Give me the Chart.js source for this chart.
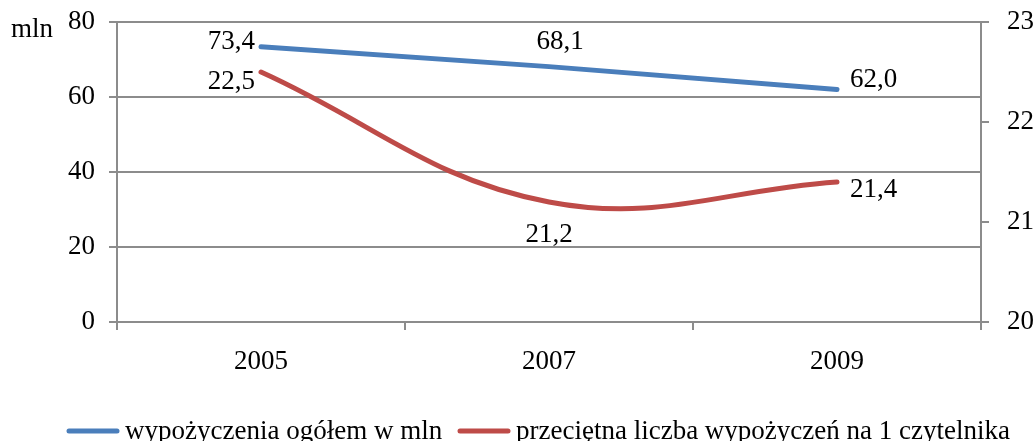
<!DOCTYPE html>
<html>
<head>
<meta charset="utf-8">
<script src="https://cdn.jsdelivr.net/npm/chart.js@4/dist/chart.umd.min.js"></script>
<style>
  html, body { margin: 0; padding: 0; background: #fff; }
  #wrap { width: 1034px; height: 441px; }
</style>
</head>
<body>
<div id="wrap"><canvas id="chart" width="1034" height="441"></canvas></div>
<script>
// data
const years = ["2005", "2007", "2009"];
const totalLoans = [73.4, 68.1, 62.0];          // mln, left axis
const loansPerReader = [22.5, 21.2, 21.4];      // right axis
const seriesNames = ["wypożyczenia ogółem w mln", "przeciętna liczba wypożyczeń na 1 czytelnika"];
const leftTicks = [0, 20, 40, 60, 80];
const rightTicks = [20, 21, 22, 23];

const FONT = "'Liberation Serif', 'Times New Roman', serif";
const FS = 27;
const GRID = '#8c8c8c';
const BLUE = '#4a7ebb';
const RED = '#be4b48';

const fmt = v => v.toFixed(1).replace('.', ',');

// label placement per point: [dx, dy, align]
const labelPos = [
  [[-6, -5, 'right'], [11, -25, 'center'], [13, -10, 'left']],
  [[-6, 10, 'right'], [0, 33, 'center'], [13, 8, 'left']]
];

const extras = {
  id: 'extras',
  afterDatasetsDraw(chart) {
    const ctx = chart.ctx;
    ctx.save();
    ctx.font = FS + 'px ' + FONT;
    ctx.fillStyle = '#000';
    ctx.textBaseline = 'middle';
    chart.data.datasets.forEach((ds, i) => {
      chart.getDatasetMeta(i).data.forEach((pt, j) => {
        const [dx, dy, al] = labelPos[i][j];
        ctx.textAlign = al;
        ctx.fillText(fmt(ds.data[j]), pt.x + dx, pt.y + dy);
      });
    });
    // axis unit
    ctx.textAlign = 'left';
    ctx.fillText('mln', 11, 30);
    // legend
    const items = [[67, BLUE], [458, RED]];
    items.forEach(([x, c], i) => {
      ctx.strokeStyle = c;
      ctx.lineWidth = 5;
      ctx.lineCap = 'round';
      ctx.beginPath();
      ctx.moveTo(x + 2, 431);
      ctx.lineTo(x + 50, 431);
      ctx.stroke();
      ctx.fillText(seriesNames[i], x + 58, 432);
    });
    ctx.restore();
  }
};

const noPadY = s => { s.paddingTop = 0; s.paddingBottom = 0; };

new Chart(document.getElementById('chart'), {
  type: 'line',
  data: {
    labels: years,
    datasets: [
      { label: seriesNames[0], data: totalLoans, yAxisID: 'y', borderColor: BLUE,
        borderWidth: 5, pointRadius: 0, tension: 0, borderCapStyle: 'round' },
      { label: seriesNames[1], data: loansPerReader, yAxisID: 'y1', borderColor: RED,
        borderWidth: 5, pointRadius: 0, tension: 0.4, borderCapStyle: 'round' }
    ]
  },
  options: {
    responsive: false,
    animation: false,
    layout: { padding: { top: 22, left: 0, right: 0, bottom: 0 } },
    plugins: { legend: { display: false }, tooltip: { enabled: false } },
    scales: {
      x: {
        offset: true,
        grid: { offset: true, drawOnChartArea: false, color: GRID, tickLength: 8, lineWidth: 2 },
        border: { color: GRID, width: 2 },
        ticks: { color: '#000', font: { family: FONT, size: FS }, padding: 16 },
        afterFit(s) { s.height = 119; s.paddingLeft = 0; s.paddingRight = 0; }
      },
      y: {
        position: 'left',
        min: 0, max: 80,
        afterBuildTicks(s) { s.ticks = leftTicks.map(v => ({ value: v })); },
        grid: { color: GRID, tickLength: 8, lineWidth: 2 },
        border: { color: GRID, width: 2 },
        ticks: { color: '#000', font: { family: FONT, size: FS }, padding: 14 },
        afterFit(s) { s.width = 117; noPadY(s); }
      },
      y1: {
        position: 'right',
        min: 20, max: 23,
        afterBuildTicks(s) { s.ticks = rightTicks.map(v => ({ value: v })); },
        grid: { drawOnChartArea: false, color: GRID, tickLength: 8, lineWidth: 2 },
        border: { color: GRID, width: 2 },
        ticks: { color: '#000', font: { family: FONT, size: FS }, padding: 18 },
        afterFit(s) { s.width = 53; noPadY(s); }
      }
    }
  },
  plugins: [extras]
});
</script>
</body>
</html>
